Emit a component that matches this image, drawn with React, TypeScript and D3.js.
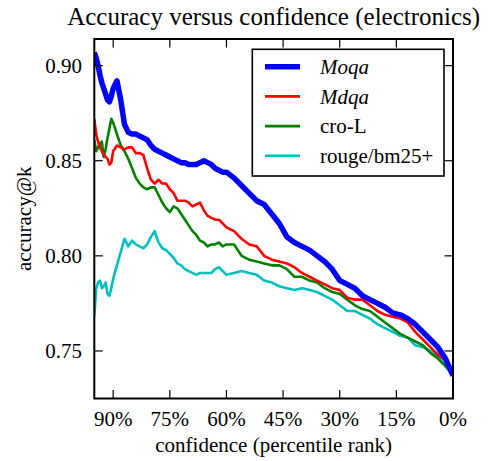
import React, { useEffect, useRef } from "react";
import * as d3 from "d3";

const pct = [
  95, 94.5, 94, 93.5, 93, 92.5, 92, 91.5, 91, 90.5, 90,
  89, 88, 87, 86, 85, 84, 83, 82, 81, 80, 79, 78, 77, 76, 75, 74, 73, 72, 71, 70,
  69, 68, 67, 66, 65, 64, 63, 62, 61,
  60, 58, 56, 54, 52, 50, 48, 46, 44, 42, 40, 38, 36, 34, 32, 30, 28, 26, 24, 22,
  20, 18, 16, 14, 12, 10, 8, 6, 4, 2, 0,
];

const moqa = [
  0.907, 0.904, 0.9, 0.895, 0.891, 0.888, 0.885, 0.882, 0.881, 0.884, 0.888,
  0.892, 0.882, 0.869, 0.865, 0.864, 0.864, 0.863, 0.862, 0.861, 0.858, 0.856, 0.855, 0.854, 0.853, 0.852, 0.851, 0.85, 0.849, 0.849, 0.848,
  0.848, 0.848, 0.849, 0.85, 0.849, 0.848, 0.846, 0.845, 0.844,
  0.844, 0.841, 0.837, 0.833, 0.829, 0.827, 0.822, 0.817, 0.81, 0.807, 0.805, 0.803, 0.8, 0.797, 0.793, 0.787, 0.785, 0.783, 0.779, 0.777,
  0.775, 0.773, 0.77, 0.769, 0.767, 0.764, 0.76, 0.756, 0.752, 0.746, 0.737,
];

const mdqa = [
  0.872, 0.864, 0.86, 0.857, 0.855, 0.853, 0.852, 0.851, 0.848, 0.849, 0.855,
  0.858, 0.857, 0.856, 0.857, 0.857, 0.854, 0.854, 0.853, 0.846, 0.84, 0.838, 0.84, 0.838, 0.838, 0.835, 0.833, 0.829, 0.829, 0.829, 0.828,
  0.826, 0.827, 0.828, 0.824, 0.821, 0.82, 0.819, 0.819, 0.817,
  0.815, 0.813, 0.809, 0.806, 0.805, 0.8, 0.798, 0.797, 0.796, 0.794, 0.791, 0.789, 0.787, 0.785, 0.783, 0.782, 0.778, 0.777, 0.777, 0.774,
  0.771, 0.769, 0.768, 0.767, 0.765, 0.76, 0.756, 0.752, 0.748, 0.745, 0.74,
];

const croL = [
  0.861, 0.855, 0.857, 0.859, 0.86, 0.852, 0.856, 0.862, 0.867, 0.872, 0.87,
  0.864, 0.858, 0.855, 0.851, 0.846, 0.841, 0.838, 0.836, 0.835, 0.836, 0.836, 0.832, 0.828, 0.825, 0.823, 0.826, 0.825, 0.822, 0.819, 0.816,
  0.813, 0.811, 0.808, 0.807, 0.805, 0.806, 0.806, 0.807, 0.805,
  0.806, 0.806, 0.8, 0.798, 0.797, 0.796, 0.795, 0.795, 0.793, 0.789, 0.789, 0.787, 0.786, 0.783, 0.781, 0.78, 0.777, 0.774, 0.772, 0.771,
  0.768, 0.765, 0.762, 0.759, 0.757, 0.755, 0.753, 0.749, 0.746, 0.742, 0.738,
];

const rouge = [
  0.768, 0.783, 0.786, 0.787, 0.783, 0.784, 0.786, 0.78, 0.779, 0.783, 0.788,
  0.795, 0.802, 0.809, 0.805, 0.808, 0.806, 0.805, 0.804, 0.806, 0.81, 0.813, 0.807, 0.804, 0.803, 0.801, 0.799, 0.796, 0.795, 0.793, 0.792,
  0.791, 0.79, 0.791, 0.791, 0.791, 0.791, 0.793, 0.794, 0.792,
  0.79, 0.791, 0.792, 0.791, 0.79, 0.787, 0.786, 0.784, 0.783, 0.782, 0.783, 0.782, 0.781, 0.779, 0.777, 0.774, 0.771, 0.771, 0.769, 0.767,
  0.764, 0.762, 0.76, 0.758, 0.757, 0.753, 0.752, 0.75, 0.747, 0.742, 0.737,
];

const seriesNames = ["Moqa", "Mdqa", "cro-L", "rouge/bm25+"];
const seriesColors = ["#0000ff", "#ff0000", "#008000", "#00bfbf"];
const seriesWidths = [5.5, 2.6, 2.6, 2.6];
const seriesItalic = [true, true, false, false];
const seriesValues = [moqa, mdqa, croL, rouge];

const xTicks = [90, 75, 60, 45, 30, 15, 0];
const yTicks = [0.75, 0.8, 0.85, 0.9];

const W = 488;
const H = 461;
const M = { left: 94.3, right: 453, top: 39, bottom: 398.5 };
const SERIF = '"Liberation Serif", "Times New Roman", Times, serif';

export default function App() {
  const ref = useRef<SVGSVGElement | null>(null);

  useEffect(() => {
    const svg = d3.select(ref.current);
    svg.selectAll("*").remove();

    const x = d3.scaleLinear().domain([95, 0]).range([M.left, M.right]);
    const y = d3.scaleLinear().domain([0.725, 0.914]).range([M.bottom, M.top]);
    const line = d3
      .line<[number, number]>()
      .x((d) => x(d[0]))
      .y((d) => y(d[1]));

    svg
      .append("style")
      .text(`text { font-family: ${SERIF} !important; }`);

    svg
      .append("defs")
      .append("clipPath")
      .attr("id", "plotclip")
      .append("rect")
      .attr("x", M.left)
      .attr("y", M.top)
      .attr("width", M.right - M.left)
      .attr("height", M.bottom - M.top);

    const addText = (
      parent: any,
      str: string,
      size: number,
      anchor: string,
      italic = false
    ) => {
      const t = parent
        .append("text")
        .attr("text-anchor", anchor)
        .attr("fill", "#000")
        .attr("font-family", SERIF)
        .attr("font-size", size)
        .text(str);
      const node = t.node() as SVGTextElement;
      node.style.setProperty("font-family", SERIF, "important");
      node.style.setProperty("font-size", size + "px", "important");
      if (italic) node.style.setProperty("font-style", "italic", "important");
      return t;
    };

    addText(svg, "Accuracy versus confidence (electronics)", 25, "middle")
      .attr("x", (M.left + M.right) / 2)
      .attr("y", 25);

    const g = svg.append("g").attr("clip-path", "url(#plotclip)");
    [3, 2, 1, 0].forEach((i) => {
      g.append("path")
        .attr("d", line(pct.map((p, k) => [p, seriesValues[i][k]]) as [number, number][]) || "")
        .attr("fill", "none")
        .attr("stroke", seriesColors[i])
        .attr("stroke-width", seriesWidths[i])
        .attr("stroke-linejoin", "round");
    });

    const tickLen = 8.5;
    xTicks.forEach((t) => {
      svg.append("line").attr("x1", x(t)).attr("x2", x(t)).attr("y1", M.bottom).attr("y2", M.bottom - tickLen)
        .attr("stroke", "#000").attr("stroke-width", 1.2);
      svg.append("line").attr("x1", x(t)).attr("x2", x(t)).attr("y1", M.top).attr("y2", M.top + tickLen)
        .attr("stroke", "#000").attr("stroke-width", 1.2);
      addText(svg, t + "%", 21, "middle").attr("x", x(t)).attr("y", 426);
    });
    yTicks.forEach((t) => {
      svg.append("line").attr("x1", M.left).attr("x2", M.left + tickLen).attr("y1", y(t)).attr("y2", y(t))
        .attr("stroke", "#000").attr("stroke-width", 1.2);
      svg.append("line").attr("x1", M.right).attr("x2", M.right - tickLen).attr("y1", y(t)).attr("y2", y(t))
        .attr("stroke", "#000").attr("stroke-width", 1.2);
      addText(svg, t.toFixed(2), 21, "end").attr("x", 82).attr("y", y(t) + 7.3);
    });

    svg.append("rect")
      .attr("x", M.left).attr("y", M.top)
      .attr("width", M.right - M.left).attr("height", M.bottom - M.top)
      .attr("fill", "none").attr("stroke", "#000").attr("stroke-width", 2);

    addText(svg, "confidence (percentile rank)", 21, "middle")
      .attr("x", (M.left + M.right) / 2)
      .attr("y", 452);
    addText(svg, "accuracy@k", 21, "middle")
      .attr("transform", `translate(30.5, ${(M.top + M.bottom) / 2}) rotate(-90)`);

    const lg = svg.append("g");
    lg.append("rect")
      .attr("x", 252.3).attr("y", 49.3).attr("width", 191.7).attr("height", 126.7)
      .attr("fill", "#fff").attr("stroke", "#000").attr("stroke-width", 1.6);
    seriesNames.forEach((n, i) => {
      const cy = 66.7 + i * 29.7;
      lg.append("line").attr("x1", 265).attr("x2", 300).attr("y1", cy).attr("y2", cy)
        .attr("stroke", seriesColors[i]).attr("stroke-width", seriesWidths[i]);
      addText(lg, n, 21, "start", seriesItalic[i]).attr("x", 320).attr("y", cy + 7.3);
    });
  }, []);

  return (
    <div style={{ position: "absolute", left: 0, top: 0, fontFamily: SERIF }}>
      <svg ref={ref} width={W} height={H} style={{ display: "block", background: "#fff" }} />
    </div>
  );
}
